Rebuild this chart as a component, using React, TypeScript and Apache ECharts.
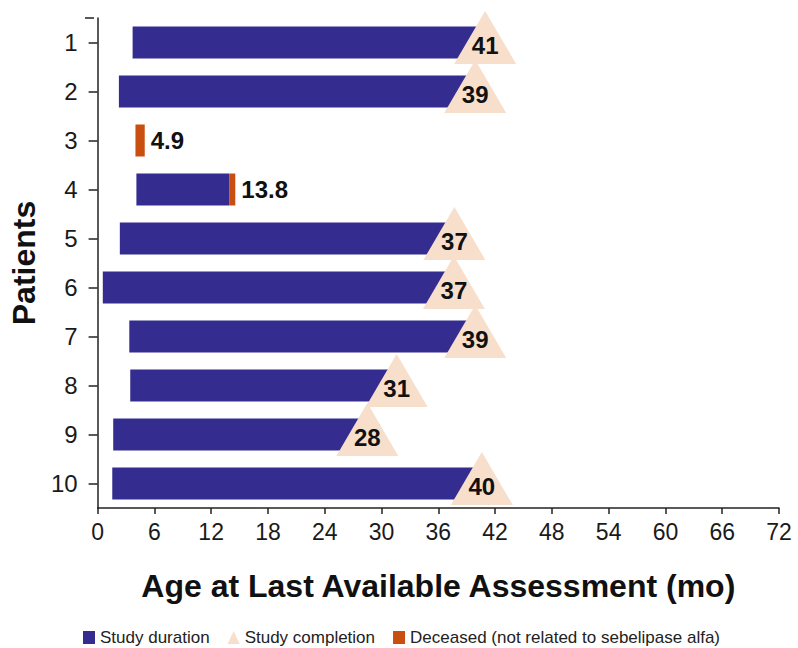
import React, { useEffect, useRef } from "react";
import * as echarts from "echarts";

// Data
const patients = ["1", "2", "3", "4", "5", "6", "7", "8", "9", "10"];
// age at study start (months)
const startAge = [3.7, 2.25, 4.0, 4.1, 2.35, 0.55, 3.35, 3.45, 1.65, 1.55];
// age at end of study duration bar (months)
const durationEnd = [40.95, 39.9, 4.0, 13.9, 37.7, 37.65, 39.9, 31.6, 28.5, 40.6];
// age at death (null when not deceased)
const deceasedEnd: (number | null)[] = [null, null, 4.98, 14.55, null, null, null, null, null, null];
const deceasedLabel: (string | null)[] = [null, null, "4.9", "13.8", null, null, null, null, null, null];
// study completion marker label (null when not completed)
const completionLabel: (string | null)[] = ["41", "39", null, null, "37", "37", "39", "31", "28", "40"];
const xTicks = { min: 0, max: 72, interval: 6 };

const BLUE = "#342D8F";
const PEACH = "#F7DFCC";
const ORANGE = "#C84F10";
const FONT = "'Liberation Sans', Arial, Helvetica, sans-serif";

export default function App() {
  const ref = useRef<HTMLDivElement>(null);
  useEffect(() => {
    if (!ref.current) return;
    const chart = echarts.init(ref.current, undefined, { renderer: "svg" });

    const gridLeft = 94;
    const gridTop = 18;

    const baseData = startAge.map((s) => s);
    const durData = startAge.map((s, i) => {
      const d = durationEnd[i] - s;
      return d > 0 ? d : "-";
    });
    const decData = deceasedEnd.map((e, i) => {
      if (e == null) return "-";
      return {
        value: e - durationEnd[i],
        label: {
          show: true,
          position: "right",
          distance: 6,
          formatter: deceasedLabel[i] || "",
          fontFamily: FONT,
          fontWeight: "bold",
          fontSize: 24,
          color: "#111",
        },
      };
    });
    const compData: any[] = [];
    completionLabel.forEach((l, i) => {
      if (l != null) compData.push({ value: [durationEnd[i], patients[i]], labelText: l });
    });

    chart.setOption({
      animation: false,
      textStyle: { fontFamily: FONT },
      grid: { left: gridLeft, right: 19, top: gridTop, bottom: 140, containLabel: false },
      xAxis: {
        type: "value",
        min: xTicks.min,
        max: xTicks.max,
        interval: xTicks.interval,
        splitLine: { show: false },
        axisLine: { show: true, lineStyle: { color: "#222", width: 1.5 } },
        axisTick: { show: true, length: 6, lineStyle: { color: "#222", width: 1.5 } },
        axisLabel: { fontSize: 23, color: "#1a1a1a", margin: 12, fontFamily: FONT },
        name: "Age at Last Available Assessment (mo)",
        nameLocation: "middle",
        nameGap: 62,
        nameTextStyle: { fontSize: 32, fontWeight: "bold", color: "#111", fontFamily: FONT },
      },
      yAxis: {
        type: "category",
        data: patients,
        inverse: true,
        boundaryGap: true,
        axisLine: { show: true, lineStyle: { color: "#222", width: 1.5 } },
        axisTick: { show: true, alignWithLabel: true, length: 9, lineStyle: { color: "#222", width: 1.5 } },
        axisLabel: { fontSize: 24, color: "#1a1a1a", margin: 20, fontFamily: FONT },
        name: "Patients",
        nameLocation: "middle",
        nameGap: 52,
        nameRotate: 90,
        nameTextStyle: { fontSize: 32, fontWeight: "bold", color: "#111", fontFamily: FONT },
      },
      legend: {
        left: 78,
        top: 624,
        itemWidth: 12,
        itemHeight: 13,
        itemGap: 18,
        textStyle: { fontSize: 17, color: "#222", fontFamily: FONT },
        data: [
          { name: "Study duration", icon: "rect" },
          { name: "Study completion", icon: "triangle" },
          { name: "Deceased (not related to sebelipase alfa)", icon: "rect" },
        ],
      },
      graphic: [
        {
          type: "line",
          shape: { x1: gridLeft - 9, y1: gridTop, x2: gridLeft, y2: gridTop },
          style: { stroke: "#222", lineWidth: 1.5 },
        },
      ],
      series: [
        {
          name: "base",
          type: "bar",
          stack: "a",
          barWidth: 32,
          itemStyle: { color: "transparent" },
          data: baseData,
          silent: true,
        },
        {
          name: "Study duration",
          type: "bar",
          stack: "a",
          barWidth: 32,
          itemStyle: { color: BLUE },
          data: durData,
        },
        {
          name: "Deceased (not related to sebelipase alfa)",
          type: "bar",
          stack: "a",
          barWidth: 32,
          itemStyle: { color: ORANGE },
          data: decData,
        },
        {
          name: "Study completion",
          type: "scatter",
          symbol: "triangle",
          symbolSize: [62, 53],
          symbolOffset: [0, -5],
          z: 5,
          itemStyle: { color: PEACH, opacity: 1 },
          label: {
            show: true,
            position: "inside",
            offset: [0, 8],
            formatter: (p: any) => p.data.labelText,
            fontFamily: FONT,
            fontWeight: "bold",
            fontSize: 24,
            color: "#111",
          },
          data: compData,
        },
      ],
    });
    return () => chart.dispose();
  }, []);
  return (
    <div
      ref={ref}
      style={{ position: "absolute", left: 0, top: 0, width: 798, height: 648, background: "#fff" }}
    />
  );
}
